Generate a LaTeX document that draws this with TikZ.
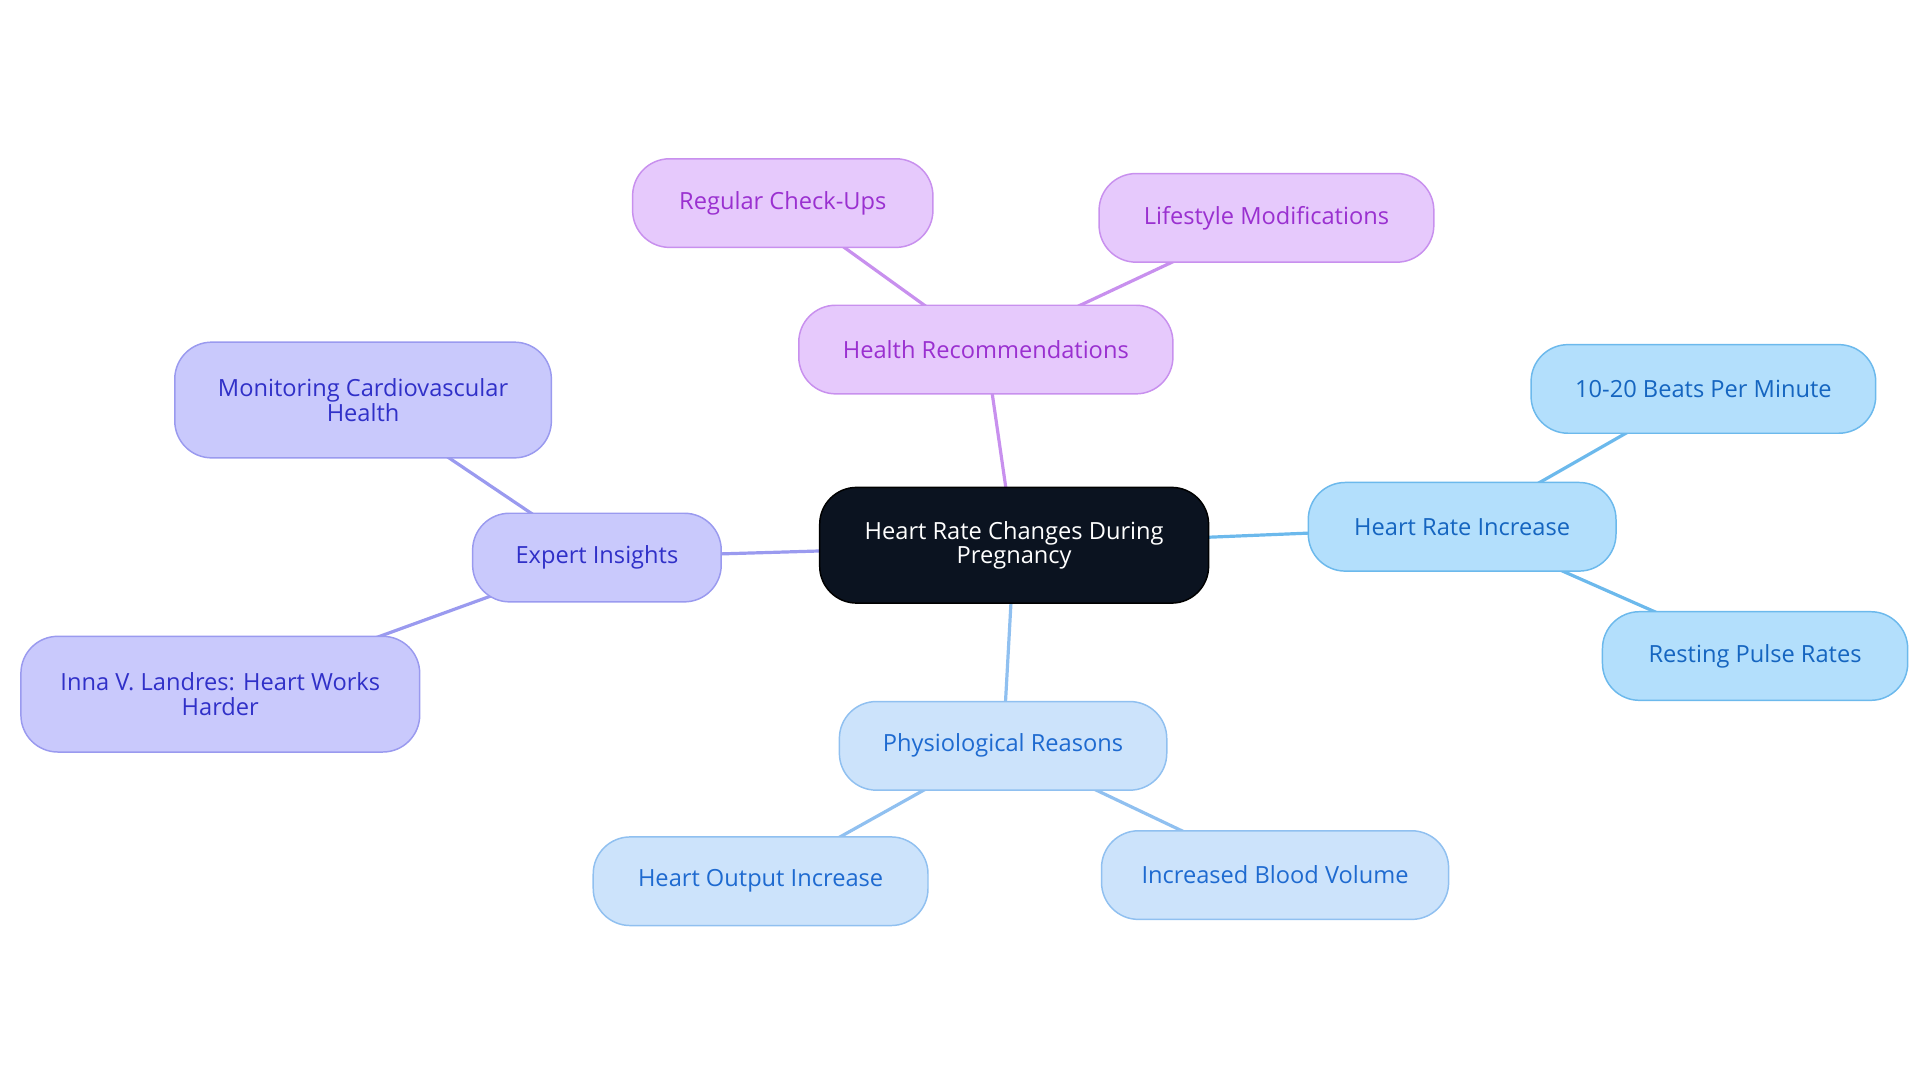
\documentclass[tikz,border=0pt]{standalone}
\usepackage{fontspec}
\setmainfont{Open Sans}
\begin{document}
\begin{tikzpicture}[x=0.5pt,y=-0.5pt,
 box/.style={rounded corners=15pt,align=center,font=\fontsize{9.6}{10}\selectfont,line width=0.6pt,inner sep=0pt},
 c0/.style={box,fill=black!85!blue!60!black,draw=black,text=white},
 cb/.style={box,fill=blue!30!cyan!30,draw=cyan!50!blue!60,text=blue!70!cyan},
 cl/.style={box,fill=blue!20!white,draw=blue!40!cyan!50,text=blue!70!cyan!90!black},
 cp/.style={box,fill=blue!22!white!95!violet,draw=blue!40!violet!50,text=blue!75!black},
 cv/.style={box,fill=violet!22!white,draw=violet!45,text=violet!80},
 eb/.style={line width=1.3pt,draw=cyan!50!blue!60},
 el/.style={line width=1.3pt,draw=blue!40!cyan!45},
 ep/.style={line width=1.3pt,draw=blue!35!violet!45},
 ev/.style={line width=1.3pt,draw=violet!45}]
\useasboundingbox (0,0) rectangle (1560,880);
\definecolor{cfb}{HTML}{B3DFFC}\definecolor{csb}{HTML}{6CB9EC}\definecolor{ctb}{HTML}{1565C0}
\definecolor{cfl}{HTML}{CCE3FB}\definecolor{csl}{HTML}{90C0F0}\definecolor{ctl}{HTML}{1E6AD0}
\definecolor{cfp}{HTML}{C9C9FC}\definecolor{csp}{HTML}{9A9AEF}\definecolor{ctp}{HTML}{3030C8}
\definecolor{cfv}{HTML}{E6C9FC}\definecolor{csv}{HTML}{C890EE}\definecolor{ctv}{HTML}{9A30D0}
\definecolor{cf0}{HTML}{0B1320}
\tikzset{c0/.style={box,fill=cf0,draw=black,text=white},
 cb/.style={box,fill=cfb,draw=csb,text=ctb},cl/.style={box,fill=cfl,draw=csl,text=ctl},
 cp/.style={box,fill=cfp,draw=csp,text=ctp},cv/.style={box,fill=cfv,draw=csv,text=ctv},
 eb/.style={line width=1.3pt,draw=csb},el/.style={line width=1.3pt,draw=csl},
 ep/.style={line width=1.3pt,draw=csp},ev/.style={line width=1.3pt,draw=csv}}
\begin{scope}[on background layer/.style={}]
\coordinate (dummy) at (0,0);
\end{scope}
% edges first
\path (824,443) coordinate (pc) (1188,428) coordinate (phr) (1384,316) coordinate (pb) (1426,533) coordinate (pr)
 (815,606) coordinate (pph) (618,716) coordinate (pho) (1036,711) coordinate (pib)
 (485,453) coordinate (pex) (295,325) coordinate (pmo) (179,564) coordinate (pin)
 (801,284) coordinate (phe) (636,165) coordinate (prc) (1029,177) coordinate (pli);
\draw[eb] (pc)--(phr) (phr)--(pb) (phr)--(pr);
\draw[el] (pc)--(pph) (pph)--(pho) (pph)--(pib);
\draw[ep] (pc)--(pex) (pex)--(pmo) (pex)--(pin);
\draw[ev] (pc)--(phe) (phe)--(prc) (phe)--(pli);
\node[c0,minimum width=158pt,minimum height=47pt] (c) at (pc) {Heart Rate Changes During\\Pregnancy};
\node[cb,minimum width=125pt,minimum height=36pt] (hr) at (phr) {Heart Rate Increase};
\node[cb,minimum width=140pt,minimum height=36pt] (b) at (pb) {10-20 Beats Per Minute};
\node[cb,minimum width=124pt,minimum height=36pt] (r) at (pr) {Resting Pulse Rates};
\node[cl,minimum width=133pt,minimum height=36pt] (ph) at (pph) {Physiological Reasons};
\node[cl,minimum width=136pt,minimum height=36pt] (ho) at (pho) {Heart Output Increase};
\node[cl,minimum width=141pt,minimum height=36pt] (ib) at (pib) {Increased Blood Volume};
\node[cp,minimum width=101pt,minimum height=36pt] (ex) at (pex) {Expert Insights};
\node[cp,minimum width=153pt,minimum height=47pt] (mo) at (pmo) {Monitoring Cardiovascular\\Health};
\node[cp,minimum width=162pt,minimum height=47pt] (in) at (pin) {Inna V. Landres: Heart Works\\Harder};
\node[cv,minimum width=152pt,minimum height=36pt] (he) at (phe) {Health Recommendations};
\node[cv,minimum width=122pt,minimum height=36pt] (rc) at (prc) {Regular Check-Ups};
\node[cv,minimum width=136pt,minimum height=36pt] (li) at (pli) {Lifestyle Modifications};
\end{tikzpicture}
\end{document}
